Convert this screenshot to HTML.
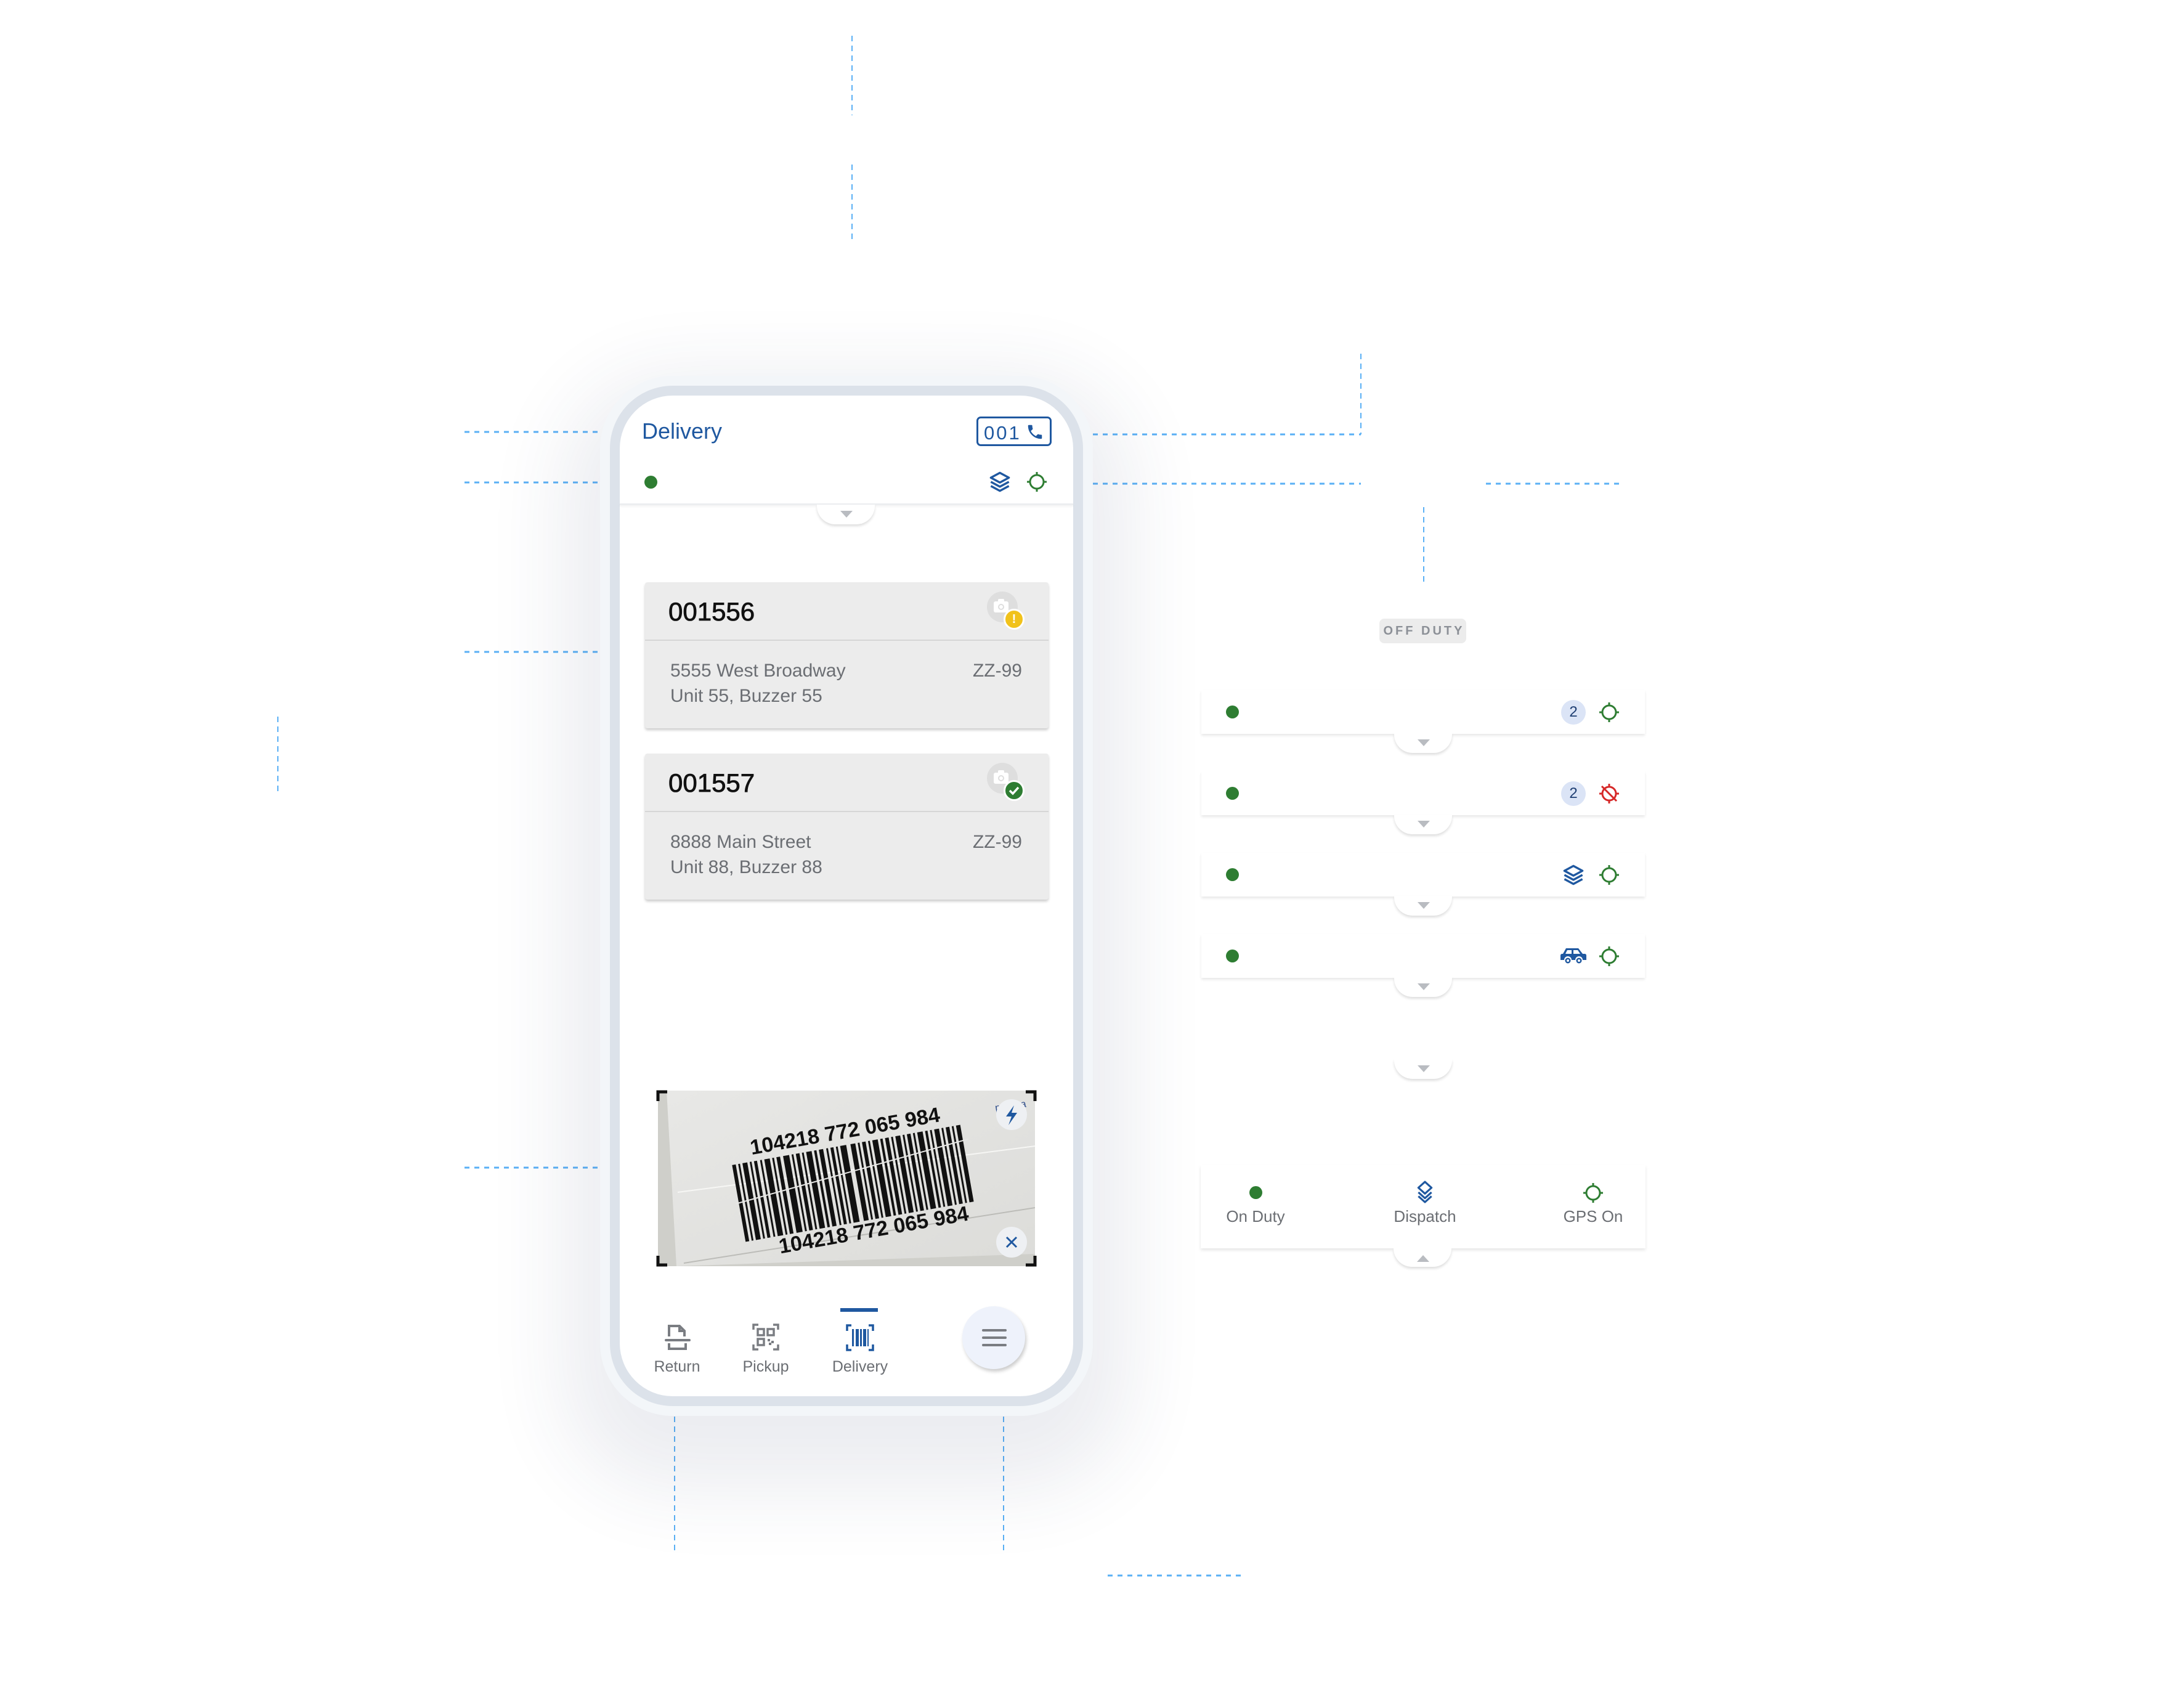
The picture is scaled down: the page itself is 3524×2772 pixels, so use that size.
<!DOCTYPE html>
<html><head><meta charset="utf-8">
<style>
*{margin:0;padding:0;box-sizing:border-box}
html,body{width:3524px;height:2772px;background:#fff;overflow:hidden;font-family:"Liberation Sans",sans-serif}
.a{position:absolute}
.t{position:absolute;white-space:nowrap;line-height:1}
.ring{left:974px;top:610px;width:800px;height:1688px;border-radius:118px;background:#f3f6f9;box-shadow:0 60px 220px 60px rgba(40,60,100,0.09)}
.border{left:990px;top:626px;width:768px;height:1656px;border-radius:102px;background:#dce2ea}
.screen{left:1006px;top:642px;width:736px;height:1624px;border-radius:86px;background:#fff;overflow:hidden}
.tab{position:absolute;width:94px;height:32px;background:#fff;border-radius:0 0 30px 30px;box-shadow:0 3px 4px rgba(0,0,0,0.13)}
.tab:after{content:"";position:absolute;left:38px;top:10px;border-left:10px solid transparent;border-right:10px solid transparent;border-top:11px solid #b9bcc1}
.tab.up:after{top:11px;border-top:none;border-bottom:11px solid #b9bcc1}
.row{position:absolute;left:1950px;width:720px;height:71px;background:#fff;box-shadow:0 3px 4px rgba(0,0,0,0.09)}
.dot{position:absolute;width:21px;height:21px;border-radius:50%;background:#2e7d32}
.badge{position:absolute;width:40px;height:40px;border-radius:50%;background:#dbe4f6;color:#1f3f73;font-size:24px;line-height:40px;text-align:center}
.card{position:absolute;left:1047px;width:655px;height:237px;background:#ececec;border-radius:4px;box-shadow:0 3px 4px rgba(0,0,0,0.2)}
.card .hd{position:absolute;left:0;top:93px;width:100%;height:2px;background:#d6d6d6}
.num{-webkit-text-stroke:0.8px #111}
</style></head><body>

<svg class="a" style="left:0;top:0" width="3524" height="2772">
<g stroke="#5ab0f5" stroke-width="3" stroke-dasharray="8 8" fill="none">
<line x1="754" y1="701" x2="974" y2="701"/>
<line x1="754" y1="783" x2="974" y2="783"/>
<line x1="754" y1="1058" x2="974" y2="1058"/>
<line x1="754" y1="1895" x2="974" y2="1895"/>
<line x1="1774" y1="705" x2="2209" y2="705"/>
<line x1="1774" y1="785" x2="2209" y2="785"/>
<line x1="2412" y1="785" x2="2633" y2="785"/>
<line x1="1798" y1="2557" x2="2017" y2="2557"/>
</g>
<g stroke="#5ab0f5" stroke-width="2" stroke-dasharray="9 7" fill="none">
<line x1="2209" y1="574" x2="2209" y2="705"/>
<line x1="2311" y1="823" x2="2311" y2="951"/>
<line x1="1383" y1="58" x2="1383" y2="187"/>
<line x1="1383" y1="267" x2="1383" y2="395"/>
<line x1="451" y1="1163" x2="451" y2="1291"/>
<line x1="1095" y1="2299" x2="1095" y2="2517"/>
<line x1="1629" y1="2299" x2="1629" y2="2517"/>
</g>
</svg>

<div class="a ring"></div>
<div class="a border"></div>
<div class="a screen"></div>

<!-- header -->
<div class="t" style="left:1042px;top:682px;font-size:36px;color:#1f58a0">Delivery</div>
<div class="a" style="left:1585px;top:676px;width:122px;height:48px;border:3px solid #1f58a0;border-radius:7px"></div>
<div class="t" style="left:1597px;top:687px;font-size:31px;color:#1f58a0;letter-spacing:3px">001</div>
<svg class="a" style="left:1665px;top:686px" width="30" height="30" viewBox="0 0 24 24"><path fill="#1f58a0" d="M6.6 10.8c1.4 2.8 3.8 5.1 6.6 6.6l2.2-2.2c.3-.3.7-.4 1-.2 1.1.4 2.3.6 3.6.6.6 0 1 .4 1 1V20c0 .6-.4 1-1 1C10.6 21 3 13.4 3 4c0-.6.4-1 1-1h3.5c.6 0 1 .4 1 1 0 1.300.2 2.5.6 3.6.1.3 0 .7-.2 1z"/></svg>
<div class="dot" style="left:1046px;top:772px"></div>
<svg class="a" style="left:1605px;top:764px" width="36" height="36" viewBox="0 0 32 32"><g fill="none" stroke="#1f58a0" stroke-width="3" stroke-linejoin="round"><path d="M3 10L16 3L29 10L16 17Z"/><path d="M3 16L16 23L29 16"/><path d="M3 22L16 29L29 22"/></g></svg>
<svg class="a" style="left:1665px;top:764px" width="36" height="36" viewBox="-18 -18 36 36"><g stroke="#2e7d32" stroke-width="3" fill="none"><circle r="11"/><path d="M0 -16V-11M0 11V16M-16 0H-11M11 0H16"/></g></svg>
<div class="a" style="left:1006px;top:817px;width:736px;height:3px;background:#eceef0;box-shadow:0 2px 3px rgba(0,0,0,0.06)"></div>
<div class="tab" style="left:1326px;top:819px"></div>

<!-- card 1 -->
<div class="card" style="top:945px"><div class="hd"></div></div>
<div class="t num" style="left:1085px;top:972px;font-size:42px;color:#111">001556</div>
<div class="a" style="left:1602px;top:960px;width:50px;height:50px;border-radius:50%;background:#dedede"></div>
<svg class="a" style="left:1611px;top:970px" width="30" height="28" viewBox="0 0 30 28"><rect x="2" y="6" width="24" height="18" rx="3" fill="#fff"/><rect x="9" y="2" width="10" height="6" rx="2" fill="#fff"/><circle cx="14" cy="15" r="5" fill="#dedede"/><circle cx="14" cy="15" r="3" fill="#fff"/></svg>
<div class="a" style="left:1629px;top:988px;width:34px;height:34px;border-radius:50%;background:#f1c21b;border:3px solid #fff;color:#fff;font-weight:bold;font-size:20px;text-align:center;line-height:28px">!</div>
<div class="t" style="left:1088px;top:1074px;font-size:30px;color:#6b6e73">5555 West Broadway</div>
<div class="t" style="left:1088px;top:1115px;font-size:30px;color:#6b6e73">Unit 55, Buzzer 55</div>
<div class="t" style="left:1559px;width:100px;text-align:right;top:1074px;font-size:30px;color:#6b6e73">ZZ-99</div>

<!-- card 2 -->
<div class="card" style="top:1223px"><div class="hd"></div></div>
<div class="t num" style="left:1085px;top:1250px;font-size:42px;color:#111">001557</div>
<div class="a" style="left:1602px;top:1238px;width:50px;height:50px;border-radius:50%;background:#dedede"></div>
<svg class="a" style="left:1611px;top:1248px" width="30" height="28" viewBox="0 0 30 28"><rect x="2" y="6" width="24" height="18" rx="3" fill="#fff"/><rect x="9" y="2" width="10" height="6" rx="2" fill="#fff"/><circle cx="14" cy="15" r="5" fill="#dedede"/><circle cx="14" cy="15" r="3" fill="#fff"/></svg>
<div class="a" style="left:1629px;top:1266px;width:34px;height:34px;border-radius:50%;background:#2e7d32;border:3px solid #fff"></div>
<svg class="a" style="left:1635px;top:1272px" width="22" height="22" viewBox="0 0 22 22"><path d="M4 11L9 16L18 6" stroke="#fff" stroke-width="3.5" fill="none"/></svg>
<div class="t" style="left:1088px;top:1352px;font-size:30px;color:#6b6e73">8888 Main Street</div>
<div class="t" style="left:1088px;top:1393px;font-size:30px;color:#6b6e73">Unit 88, Buzzer 88</div>
<div class="t" style="left:1559px;width:100px;text-align:right;top:1352px;font-size:30px;color:#6b6e73">ZZ-99</div>

<!-- barcode image -->
<svg class="a" style="left:1062px;top:1765px" width="624" height="296" viewBox="1062 1765 624 296">
<defs><linearGradient id="bg" x1="0" y1="0" x2="1" y2="1"><stop offset="0" stop-color="#e8e8e6"/><stop offset="1" stop-color="#dcdcd9"/></linearGradient>
<clipPath id="cp"><rect x="1068" y="1770" width="612" height="285"/></clipPath></defs>
<g clip-path="url(#cp)">
<rect x="1068" y="1770" width="612" height="285" fill="#cfcfca"/>
<path d="M1082 1770 L1680 1770 L1680 2035 L1098 2055 Z" fill="url(#bg)"/>
<path d="M1100 1935 L1680 1860" stroke="#f6f6f4" stroke-width="2"/>
<path d="M1110 2050 L1680 1960" stroke="#bcbcb8" stroke-width="2"/>
<g transform="translate(1385 1912) rotate(-10)" fill="#111">
<text x="0" y="-66" text-anchor="middle" font-family="Liberation Sans" font-weight="bold" font-size="34">104218 772 065 984</text>
<text x="18" y="100" text-anchor="middle" font-family="Liberation Sans" font-weight="bold" font-size="34">104218 772 065 984</text>
<g transform="translate(-190 -55) scale(1 1.1)">
<rect x="0" y="0" width="6" height="115"/><rect x="10" y="0" width="3" height="115"/><rect x="17" y="0" width="8" height="115"/><rect x="29" y="0" width="3" height="115"/><rect x="36" y="0" width="5" height="115"/><rect x="46" y="0" width="3" height="115"/><rect x="53" y="0" width="9" height="115"/><rect x="66" y="0" width="3" height="115"/><rect x="73" y="0" width="6" height="115"/><rect x="84" y="0" width="10" height="115"/><rect x="98" y="0" width="3" height="115"/><rect x="105" y="0" width="6" height="115"/><rect x="115" y="0" width="3" height="115"/><rect x="122" y="0" width="9" height="115"/><rect x="135" y="0" width="4" height="115"/><rect x="143" y="0" width="7" height="115"/><rect x="155" y="0" width="3" height="115"/><rect x="162" y="0" width="5" height="115"/><rect x="171" y="0" width="3" height="115"/><rect x="178" y="0" width="10" height="115"/><rect x="195" y="0" width="8" height="115"/><rect x="207" y="0" width="3" height="115"/><rect x="214" y="0" width="6" height="115"/><rect x="224" y="0" width="3" height="115"/><rect x="231" y="0" width="9" height="115"/><rect x="244" y="0" width="4" height="115"/><rect x="252" y="0" width="6" height="115"/><rect x="262" y="0" width="3" height="115"/><rect x="269" y="0" width="8" height="115"/><rect x="281" y="0" width="3" height="115"/><rect x="288" y="0" width="6" height="115"/><rect x="298" y="0" width="3" height="115"/><rect x="305" y="0" width="9" height="115"/><rect x="318" y="0" width="4" height="115"/><rect x="326" y="0" width="3" height="115"/><rect x="333" y="0" width="8" height="115"/><rect x="345" y="0" width="3" height="115"/><rect x="352" y="0" width="6" height="115"/><rect x="362" y="0" width="3" height="115"/><rect x="369" y="0" width="7" height="115"/>
</g>
<path d="M-195 8 L195 -30" stroke="#e8e8e6" stroke-width="2"/>
</g>
<text x="1615" y="1800" font-family="Liberation Sans" font-size="16" fill="#2a4a8a" transform="rotate(-8 1640 1795)">pour ra</text>
<circle cx="1642" cy="1809" r="25" fill="#eef0f3"/>
<path d="M1646 1794 L1633 1812 L1642 1812 L1637 1826 L1651 1806 L1642 1806 Z" fill="#1f58a0"/>
<circle cx="1642" cy="2016" r="25" fill="#eef0f3"/>
<path d="M1634 2008 L1650 2024 M1650 2008 L1634 2024" stroke="#1f58a0" stroke-width="3"/>
</g>
<g stroke="#111" stroke-width="5" fill="none">
<path d="M1068 1787 V1772 H1083"/><path d="M1665 1772 H1680 V1787"/><path d="M1068 2038 V2053 H1083"/><path d="M1665 2053 H1680 V2038"/>
</g>
</svg>

<!-- nav -->
<div class="a" style="left:1364px;top:2123px;width:61px;height:6px;background:#1f58a0"></div>
<svg class="a" style="left:1077px;top:2148px" width="46" height="46" viewBox="0 0 46 46"><g fill="none" stroke="#7a7d82" stroke-width="4"><path d="M9 21V4H26L34 12V21"/><path d="M26 4V12H34"/><path d="M9 32V41H36V32"/></g><rect x="2" y="25" width="42" height="4" rx="2" fill="#7a7d82"/></svg>
<svg class="a" style="left:1221px;top:2148px" width="44" height="44" viewBox="0 0 44 44"><g fill="none" stroke="#7a7d82" stroke-width="3.5"><path d="M2 10V2H10M34 2H42V10M2 34V42H10M42 34V42H34"/><rect x="9" y="9" width="10" height="10"/><rect x="25" y="9" width="10" height="10"/><rect x="9" y="25" width="10" height="10"/></g><g fill="#7a7d82"><rect x="25" y="25" width="4" height="4"/><rect x="31" y="28" width="4" height="4"/><rect x="27" y="31" width="4" height="4"/></g></svg>
<svg class="a" style="left:1373px;top:2148px" width="46" height="46" viewBox="0 0 46 46"><g fill="none" stroke="#1f58a0" stroke-width="3.5"><path d="M2 12V3H9M37 3H44V12M2 34V43H9M44 34V43H37"/></g><g fill="#1f58a0"><rect x="10" y="9" width="3" height="28"/><rect x="16" y="9" width="5" height="28"/><rect x="23" y="9" width="3" height="28"/><rect x="28" y="9" width="5" height="28"/><rect x="35" y="9" width="2" height="28"/></g></svg>
<div class="t" style="left:1049px;width:100px;text-align:center;top:2206px;font-size:25px;color:#6b6e73">Return</div>
<div class="t" style="left:1193px;width:100px;text-align:center;top:2206px;font-size:25px;color:#6b6e73">Pickup</div>
<div class="t" style="left:1346px;width:100px;text-align:center;top:2206px;font-size:25px;color:#6b6e73">Delivery</div>
<div class="a" style="left:1562px;top:2120px;width:102px;height:102px;border-radius:50%;background:#eef2fb;box-shadow:2px 4px 6px rgba(0,0,0,0.2)"></div>
<div class="a" style="left:1594px;top:2157px;width:40px;height:4px;border-radius:2px;background:#7a7d82"></div>
<div class="a" style="left:1594px;top:2169px;width:40px;height:4px;border-radius:2px;background:#7a7d82"></div>
<div class="a" style="left:1594px;top:2181px;width:40px;height:4px;border-radius:2px;background:#7a7d82"></div>

<!-- right panel -->
<div class="a" style="left:2239px;top:1004px;width:141px;height:40px;border-radius:8px;background:#ececec"></div>
<div class="t" style="left:2239px;width:145px;text-align:center;top:1014px;font-size:20px;font-weight:bold;color:#8c9097;letter-spacing:4px">OFF DUTY</div>

<div class="row" style="top:1120px"></div><div class="tab" style="left:2263px;top:1190px"></div>
<div class="row" style="top:1252px"></div><div class="tab" style="left:2263px;top:1322px"></div>
<div class="row" style="top:1384px"></div><div class="tab" style="left:2263px;top:1454px"></div>
<div class="row" style="top:1516px"></div><div class="tab" style="left:2263px;top:1586px"></div>
<div class="tab" style="left:2263px;top:1719px"></div>

<div class="dot" style="left:1990px;top:1145px"></div>
<div class="dot" style="left:1990px;top:1277px"></div>
<div class="dot" style="left:1990px;top:1409px"></div>
<div class="dot" style="left:1990px;top:1541px"></div>
<div class="badge" style="left:2534px;top:1136px">2</div>
<div class="badge" style="left:2534px;top:1268px">2</div>
<svg class="a" style="left:2594px;top:1138px" width="36" height="36" viewBox="-18 -18 36 36"><g stroke="#2e7d32" stroke-width="3" fill="none"><circle r="11"/><path d="M0 -16V-11M0 11V16M-16 0H-11M11 0H16"/></g></svg>
<svg class="a" style="left:2594px;top:1270px" width="36" height="36" viewBox="-18 -18 36 36"><g stroke="#d62828" stroke-width="3" fill="none"><circle r="11"/><path d="M0 -16V-11M0 11V16M-16 0H-11M11 0H16M-12 -12L12 12"/></g></svg>
<svg class="a" style="left:2536px;top:1402px" width="36" height="36" viewBox="0 0 32 32"><g fill="none" stroke="#1f58a0" stroke-width="3" stroke-linejoin="round"><path d="M3 10L16 3L29 10L16 17Z"/><path d="M3 16L16 23L29 16"/><path d="M3 22L16 29L29 22"/></g></svg>
<svg class="a" style="left:2594px;top:1402px" width="36" height="36" viewBox="-18 -18 36 36"><g stroke="#2e7d32" stroke-width="3" fill="none"><circle r="11"/><path d="M0 -16V-11M0 11V16M-16 0H-11M11 0H16"/></g></svg>
<svg class="a" style="left:2533px;top:1536px" width="42" height="30" viewBox="0 0 42 30"><path fill="#1f58a0" d="M9 3H29L36 12H39C41 12 42 13 42 15V22H36A6 6 0 0 0 24 22H18A6 6 0 0 0 6 22H0V15C0 13 1 12 3 12H4Z"/><path fill="#fff" d="M11 6H18V12H8ZM21 6H28L32 12H21Z"/><circle cx="12" cy="23" r="4.5" fill="#1f58a0"/><circle cx="12" cy="23" r="2" fill="#fff"/><circle cx="30" cy="23" r="4.5" fill="#1f58a0"/><circle cx="30" cy="23" r="2" fill="#fff"/></svg>
<svg class="a" style="left:2594px;top:1534px" width="36" height="36" viewBox="-18 -18 36 36"><g stroke="#2e7d32" stroke-width="3" fill="none"><circle r="11"/><path d="M0 -16V-11M0 11V16M-16 0H-11M11 0H16"/></g></svg>

<!-- bottom panel -->
<div class="a" style="left:1949px;top:1891px;width:722px;height:135px;background:#fff;box-shadow:0 3px 5px rgba(0,0,0,0.1)"></div>
<div class="tab up" style="left:2262px;top:2026px;height:30px"></div>
<div class="dot" style="left:2028px;top:1925px"></div>
<svg class="a" style="left:2296px;top:1915px" width="34" height="38" viewBox="0 0 32 34"><g fill="none" stroke="#1f58a0" stroke-width="3" stroke-linejoin="round"><path d="M6 11L16 2L26 11L16 20Z"/><path d="M6 18L16 27L26 18"/><path d="M6 24L16 33L26 24"/></g></svg>
<svg class="a" style="left:2568px;top:1918px" width="36" height="36" viewBox="-18 -18 36 36"><g stroke="#2e7d32" stroke-width="3" fill="none"><circle r="11"/><path d="M0 -16V-11M0 11V16M-16 0H-11M11 0H16"/></g></svg>
<div class="t" style="left:1958px;width:160px;text-align:center;top:1961px;font-size:26px;color:#6b6e73">On Duty</div>
<div class="t" style="left:2233px;width:160px;text-align:center;top:1961px;font-size:26px;color:#6b6e73">Dispatch</div>
<div class="t" style="left:2506px;width:160px;text-align:center;top:1961px;font-size:26px;color:#6b6e73">GPS On</div>

</body></html>
